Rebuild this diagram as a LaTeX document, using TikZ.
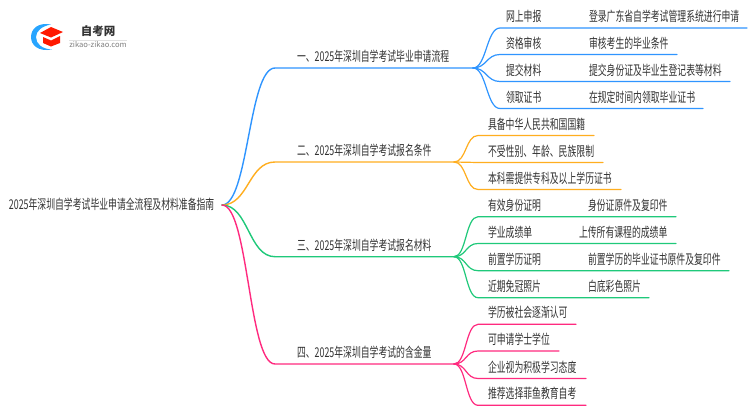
\documentclass[tikz,border=0pt]{standalone}
\usepackage{fontspec}
\usetikzlibrary{calc}
\setmainfont{Noto Sans CJK SC}
\newcommand\tx[1]{\scalebox{.655}[1]{#1}}
\newcommand\ins[1]{\hspace*{#1pt}}
\definecolor{cblue}{HTML}{2F95FF}
\definecolor{corange}{HTML}{FFAE1F}
\definecolor{cgreen}{HTML}{1FC97A}
\definecolor{cpink}{HTML}{FF2A7F}
\definecolor{ctext}{HTML}{333333}
\tikzset{
  lf/.style={anchor=south west,inner sep=0pt,outer sep=0pt,align=left,text=ctext,
    font=\fontsize{13.5}{15}\selectfont,text height=11.5pt,text depth=6.5pt},
  rootnode/.style={anchor=west,inner sep=0pt,outer sep=0pt,align=left,text=ctext,
    font=\fontsize{13.5}{15}\selectfont,text height=12.5pt,text depth=3pt},
  trunk/.style={line width=1.4pt,line cap=round},
  twig/.style={line width=1.2pt,line cap=round},
}
\begin{document}
\begin{tikzpicture}[x=1pt,y=-1pt]
\useasboundingbox (0,0) rectangle (750,410);
\fill[white] (0,0) rectangle (750,410);
% logo
\fill[cblue!85!cyan] (51,24.5) .. controls (38,22) and (31,29) .. (31,37) .. controls (31,45) and (38,52) .. (52,49.5) .. controls (42,49) and (36,44) .. (36,37) .. controls (36,31) and (42,26) .. (51,24.5) -- cycle;
\fill[red!80!orange] (51,27) -- (63,32) -- (51,37.5) -- (40,33) -- cycle;
\fill[red!80!orange] (43,37) -- (51,40.5) -- (60,36) -- (60,43) -- (51,46.5) -- (43,43) -- cycle;
\node[inner sep=0pt,font=\fontsize{11.5}{14}\selectfont\bfseries,text=ctext] (logoa) at (98,31) {自考网};
\node[inner sep=0pt,font=\fontsize{7.6}{9}\selectfont,text=gray] (logob) at (98,45) {zikao-zikao.com};
\draw[black!12,line width=.6pt] (logob.north west) ++(0,-1) coordinate (la) -- (la -| logob.north east);

% root
\node[rootnode,text width=213pt] (root) at (9,205) {\tx{2025年深圳自学考试毕业申请全流程及材料准备指南}};

% branches
\node[lf,text width=198pt] (b1) at (275,68) {\ins{22}\tx{一、2025年深圳自学考试毕业申请流程}};
\node[lf,text width=179pt] (b2) at (275,162) {\ins{22}\tx{二、2025年深圳自学考试报名条件}};
\node[lf,text width=179pt] (b3) at (275,256.7) {\ins{22}\tx{三、2025年深圳自学考试报名材料}};
\node[lf,text width=179pt] (b4) at (275,364) {\ins{22}\tx{四、2025年深圳自学考试的含金量}};

% leaves 1
\node[lf,text width=85pt] (a1) at (500,28) {\ins{6}\tx{网上申报}};
\node[lf,text width=162pt] (a1d) at (585,28) {\ins{4}\tx{登录广东省自学考试管理系统进行申请}};
\node[lf,text width=85pt] (a2) at (500,54.5) {\ins{6}\tx{资格审核}};
\node[lf,text width=92pt] (a2d) at (585,54.5) {\ins{4}\tx{审核考生的毕业条件}};
\node[lf,text width=85pt] (a3) at (500,81.5) {\ins{6}\tx{提交材料}};
\node[lf,text width=145pt] (a3d) at (585,81.5) {\ins{4}\tx{提交身份证及毕业生登记表等材料}};
\node[lf,text width=85pt] (a4) at (500,108.5) {\ins{6}\tx{领取证书}};
\node[lf,text width=118pt] (a4d) at (585,108.5) {\ins{4}\tx{在规定时间内领取毕业证书}};

% leaves 2
\node[lf,text width=116pt] (c1) at (478,135.5) {\ins{10}\tx{具备中华人民共和国国籍}};
\node[lf,text width=125pt] (c2) at (478,162.5) {\ins{10}\tx{不受性别、年龄、民族限制}};
\node[lf,text width=143pt] (c3) at (478,189.5) {\ins{10}\tx{本科需提供专科及以上学历证书}};

% leaves 3
\node[lf,text width=107pt] (d1) at (478,216.7) {\ins{10}\tx{有效身份证明}};
\node[lf,text width=91pt] (d1d) at (585,216.7) {\ins{3}\tx{身份证原件及复印件}};
\node[lf,text width=97pt] (d2) at (478,243.5) {\ins{10}\tx{学业成绩单}};
\node[lf,text width=101pt] (d2d) at (575,243.5) {\ins{4}\tx{上传所有课程的成绩单}};
\node[lf,text width=107pt] (d3) at (478,270.7) {\ins{10}\tx{前置学历证明}};
\node[lf,text width=144pt] (d3d) at (585,270.7) {\ins{3}\tx{前置学历的毕业证书原件及复印件}};
\node[lf,text width=107pt] (d4) at (478,297.7) {\ins{10}\tx{近期免冠照片}};
\node[lf,text width=64pt] (d4d) at (585,297.7) {\ins{3}\tx{白底彩色照片}};

% leaves 4
\node[lf,text width=98pt] (e1) at (478,324.3) {\ins{10}\tx{学历被社会逐渐认可}};
\node[lf,text width=81pt] (e2) at (478,351) {\ins{10}\tx{可申请学士学位}};
\node[lf,text width=108pt] (e3) at (478,378.5) {\ins{10}\tx{企业视为积极学习态度}};
\node[lf,text width=108pt] (e4) at (478,405.3) {\ins{10}\tx{推荐选择菲鱼教育自考}};

% trunks
\draw[trunk,cblue] (root.east) .. controls +(26.5,0) and ($(b1.south west)+(-26.5,0)$) .. (b1.south west) -- (b1.south east);
\draw[trunk,corange] (root.east) .. controls +(26.5,0) and ($(b2.south west)+(-26.5,0)$) .. (b2.south west) -- (b2.south east);
\draw[trunk,cgreen] (root.east) .. controls +(26.5,0) and ($(b3.south west)+(-26.5,0)$) .. (b3.south west) -- (b3.south east);
\draw[trunk,cpink] (root.east) .. controls +(26.5,0) and ($(b4.south west)+(-26.5,0)$) .. (b4.south west) -- (b4.south east);

% twigs
\foreach \p/\l/\d in {b1/a1/a1d,b1/a2/a2d,b1/a3/a3d,b1/a4/a4d}
  \draw[twig,cblue] (\p.south east) .. controls +(13.5,0) and ($(\l.south west)+(-13.5,0)$) .. (\l.south west) -- (\l.south east) -- (\d.south east);
\foreach \p/\l in {b2/c1,b2/c2,b2/c3}
  \draw[twig,corange] (\p.south east) .. controls +(12.5,0) and ($(\l.south west)+(-12.5,0)$) .. (\l.south west) -- (\l.south east);
\foreach \p/\l/\d in {b3/d1/d1d,b3/d2/d2d,b3/d3/d3d,b3/d4/d4d}
  \draw[twig,cgreen] (\p.south east) .. controls +(12.5,0) and ($(\l.south west)+(-12.5,0)$) .. (\l.south west) -- (\l.south east) -- (\d.south east);
\foreach \p/\l in {b4/e1,b4/e2,b4/e3,b4/e4}
  \draw[twig,cpink] (\p.south east) .. controls +(12.5,0) and ($(\l.south west)+(-12.5,0)$) .. (\l.south west) -- (\l.south east);
\end{tikzpicture}
\end{document}
